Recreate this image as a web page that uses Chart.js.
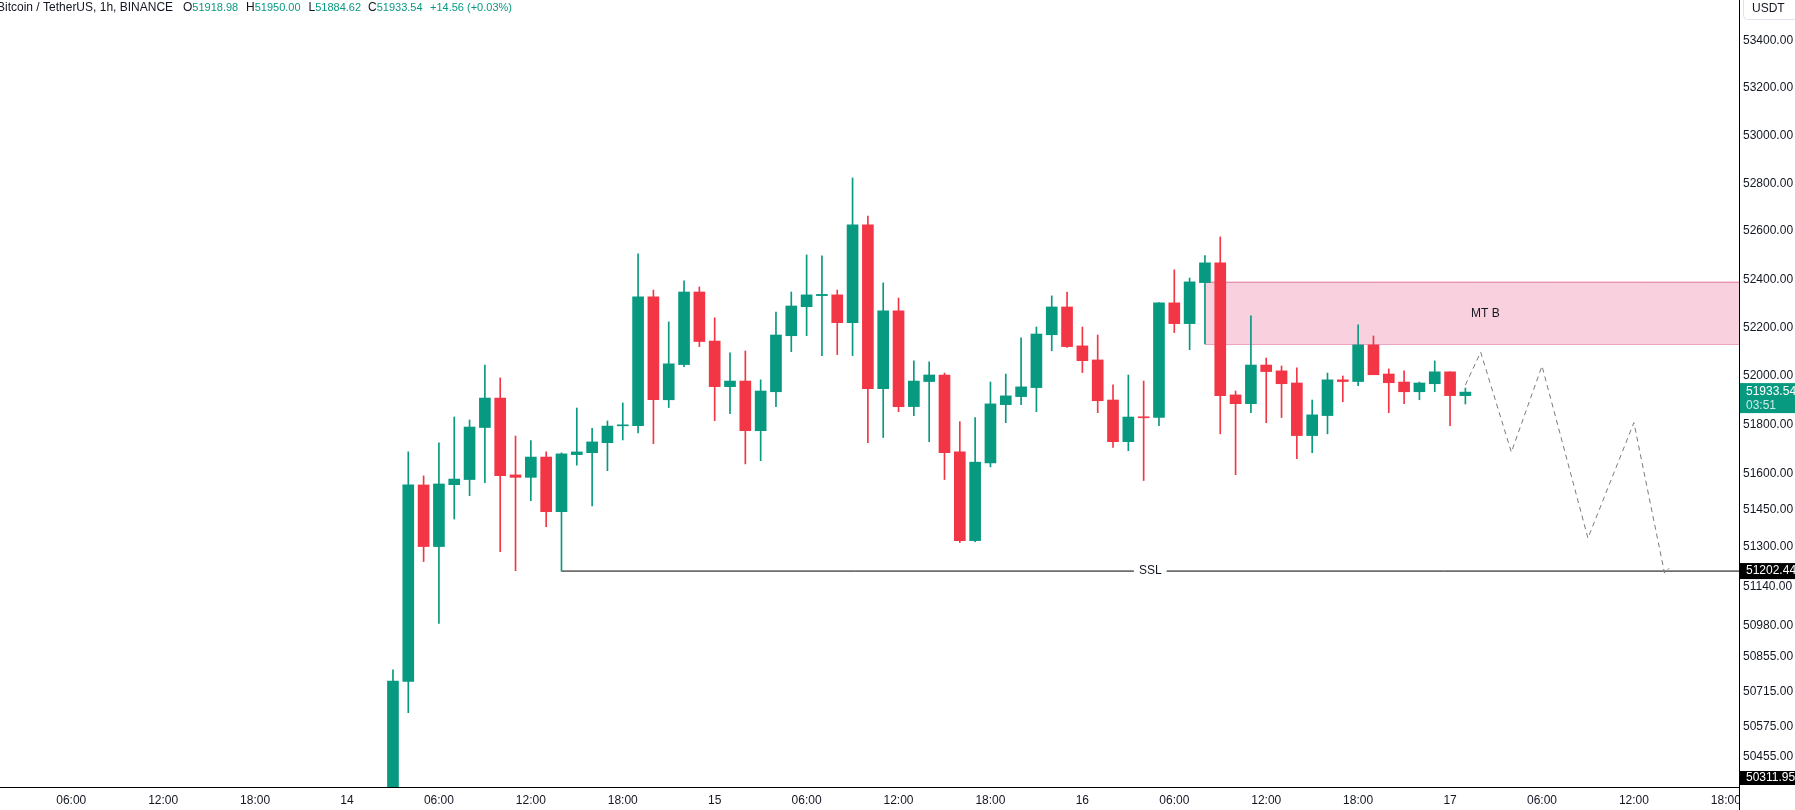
<!DOCTYPE html>
<html>
<head>
<meta charset="utf-8">
<title>Bitcoin / TetherUS, 1h</title>
<script src="https://cdn.jsdelivr.net/npm/chart.js@4.4.1/dist/chart.umd.min.js"></script>
<style>
  html, body { margin: 0; padding: 0; background: #ffffff; }
  #wrap { position: relative; width: 1795px; height: 810px; }
</style>
</head>
<body>
<div id="wrap"><canvas id="priceChart"></canvas></div>
<script>
// Candle open times, in hours counted from 14 Feb 00:00
const hours = [3, 4, 5, 6, 7, 8, 9, 10, 11, 12, 13, 14, 15, 16, 17, 18, 19, 20, 21, 22,
    23, 24, 25, 26, 27, 28, 29, 30, 31, 32, 33, 34, 35, 36, 37, 38, 39, 40, 41, 42,
    43, 44, 45, 46, 47, 48, 49, 50, 51, 52, 53, 54, 55, 56, 57, 58, 59, 60, 61, 62,
    63, 64, 65, 66, 67, 68, 69, 70, 71, 72, 73];

const opens = [50311.95, 50757, 51553, 51302, 51554, 51575, 51788, 51909, 51594, 51584,
    51667, 51444, 51677, 51685, 51726, 51795, 51796, 52327, 51902, 52047,
    52347, 52144, 51956, 51979, 51775, 51935, 52166, 52286, 52332, 52335,
    52220, 52626, 51948, 52269, 51874, 51977, 52004, 51688, 51326, 51643,
    51882, 51915, 51952, 52170, 52285, 52124, 52066, 51901, 51730, 51831,
    51829, 52302, 52216, 52386, 52468, 51922, 51886, 52045, 52021, 51971,
    51755, 51837, 51984, 51977, 52128, 52008, 51975, 51935, 51968, 52017, 51918.98];

const highs = [50803, 51688, 51590, 51725, 51831, 51819, 52045, 51992, 51753, 51734,
    51688, 51684, 51868, 51785, 51815, 51889, 52505, 52355, 52223, 52393,
    52368, 52240, 52095, 52103, 51984, 52264, 52347, 52501, 52497, 52355,
    52822, 52663, 52385, 52322, 52062, 52058, 52012, 51812, 51829, 51975,
    52008, 52157, 52202, 52331, 52347, 52202, 52169, 51963, 52004, 51979,
    52303, 52439, 52405, 52498, 52576, 51938, 52248, 52074, 52041, 52033,
    51901, 52012, 52000, 52211, 52165, 52029, 52021, 51975, 52062, 52017, 51950.00];

const lows = [50250, 50631, 51241, 50991, 51414, 51509, 51562, 51281, 51204, 51489,
    51383, 51202.44, 51634, 51467, 51611, 51737, 51766, 51722, 51870, 52038,
    52121, 51816, 51845, 51639, 51652, 51874, 52100, 52166, 52084, 52088,
    52084, 51726, 51747, 51853, 51837, 51730, 51575, 51318, 51322, 51627,
    51808, 51882, 51853, 52104, 52118, 52014, 51849, 51706, 51693, 51571,
    51796, 52179, 52108, 52132, 51762, 51595, 51849, 51808, 51829, 51660,
    51685, 51762, 51894, 51960, 52005, 51849, 51886, 51902, 51935, 51796, 51884.62];

const closes = [50758, 51553, 51302, 51557, 51577, 51790, 51909, 51591, 51584, 51667,
    51444, 51680, 51688, 51729, 51794, 51798, 52327, 51902, 52050, 52347,
    52142, 51956, 51979, 51775, 51938, 52169, 52289, 52335, 52337, 52220,
    52626, 51948, 52269, 51874, 51979, 52004, 51685, 51326, 51646, 51885,
    51918, 51955, 52173, 52285, 52121, 52063, 51898, 51730, 51831, 51828,
    52302, 52216, 52389, 52468, 51919, 51886, 52045, 52018, 51968, 51755,
    51840, 51984, 51977, 52128, 52005, 51972, 51935, 51971, 52017, 51919, 51933.54];

// Axis ticks
const priceTicks = [50455, 50575, 50715, 50855, 50980, 51140, 51300, 51450, 51600, 51800,
    52000, 52200, 52400, 52600, 52800, 53000, 53200, 53400];
const timeTicks = [-18, -12, -6, 0, 6, 12, 18, 24, 30, 36, 42, 48, 54, 60, 66, 72, 78, 84, 90];

// Drawings: sell-side liquidity line, MT B zone, projected path
const sslStart = 14;
const sslPrice = 51202.44;
const mtbStart = 56;
const mtbTop = 52387.6;
const mtbBottom = 52130.7;
const projHours = [73, 74, 76, 78, 81, 84, 86, 86.3];
const projPrices = [51963, 52098, 51687, 52041, 51336, 51808, 51194, 51214];

// Price scale labels
const lastPrice = 51933.54;
const lastCountdown = '03:51';
const lowMark = 50311.95;

// Visible range
const xMin = -22.65;
const xMax = 90.86;
const yMin = 50334;
const yMax = 53572;

const UP = '#089981';
const DOWN = '#f23645';
const TEXT = '#131722';
const FONT = '"Liberation Sans", Arial, sans-serif';

const candleColors = opens.map((o, i) => closes[i] >= o ? UP : DOWN);

/**
 * Labels and chrome drawn on top of the chart
 */
const overlayPlugin = {
    id: 'overlay',
    afterDraw(chart) {
        const ctx = chart.ctx;
        const xs = chart.scales.x;
        const ys = chart.scales.y;
        const area = chart.chartArea;
        ctx.save();

        // price scale corner hides the time label that runs past the pane
        ctx.fillStyle = '#fff';
        ctx.fillRect(area.right + 1, area.bottom + 1, chart.width - area.right, chart.height - area.bottom);

        // axis line continues below the time scale
        ctx.strokeStyle = '#000';
        ctx.lineWidth = 1;
        ctx.beginPath();
        ctx.moveTo(area.right + 0.5, area.bottom);
        ctx.lineTo(area.right + 0.5, chart.height);
        ctx.stroke();

        // header
        ctx.textBaseline = 'middle';
        ctx.textAlign = 'left';
        ctx.font = '12px ' + FONT;
        ctx.fillStyle = TEXT;
        ctx.fillText('Bitcoin / TetherUS, 1h, BINANCE', -3, 8);
        const ohlc = [['O', '51918.98', 183], ['H', '51950.00', 246], ['L', '51884.62', 308.5], ['C', '51933.54', 368]];
        ohlc.forEach(([k, v, x]) => {
            ctx.font = '12px ' + FONT;
            ctx.fillStyle = TEXT;
            ctx.fillText(k, x, 8);
            const kw = ctx.measureText(k).width;
            ctx.font = '11px ' + FONT;
            ctx.fillStyle = UP;
            ctx.fillText(v, x + kw, 8);
        });
        ctx.fillText('+14.56 (+0.03%)', 430, 8);

        // currency box
        ctx.strokeStyle = '#e0e3eb';
        ctx.beginPath();
        ctx.roundRect(area.right + 4.5, -4.5, 60, 24, 4);
        ctx.stroke();
        ctx.font = '12px ' + FONT;
        ctx.fillStyle = TEXT;
        ctx.fillText('USDT', area.right + 13, 9);

        // MT B zone label
        const mtbY = (ys.getPixelForValue(mtbTop) + ys.getPixelForValue(mtbBottom)) / 2;
        ctx.textAlign = 'center';
        ctx.fillStyle = TEXT;
        ctx.fillText('MT B', xs.getPixelForValue(74.3), mtbY);

        // SSL label, centred on the line
        const sslY = ys.getPixelForValue(sslPrice);
        const sslX = (xs.getPixelForValue(sslStart) + area.right) / 2;
        const w = ctx.measureText('SSL').width + 10;
        ctx.fillStyle = '#fff';
        ctx.fillRect(sslX - w / 2, sslY - 6, w, 12);
        ctx.fillStyle = TEXT;
        ctx.fillText('SSL', sslX, sslY);

        // price scale tags
        ctx.textAlign = 'left';
        const tagX = area.right + 1;
        const tagW = chart.width - tagX;

        const lastY = ys.getPixelForValue(lastPrice);
        ctx.fillStyle = UP;
        ctx.fillRect(tagX, lastY - 9, tagW, 30);
        ctx.fillStyle = '#fff';
        ctx.fillText(lastPrice.toFixed(2), area.right + 7, lastY);
        ctx.fillStyle = 'rgba(255,255,255,0.8)';
        ctx.fillText(lastCountdown, area.right + 7, lastY + 14);

        ctx.fillStyle = '#000';
        ctx.fillRect(tagX, sslY - 8, tagW, 16);
        ctx.fillStyle = '#fff';
        ctx.fillText(sslPrice.toFixed(2), area.right + 7, sslY);

        ctx.fillStyle = '#000';
        ctx.fillRect(tagX, area.bottom - 16, tagW, 14);
        ctx.fillStyle = '#fff';
        ctx.fillText(lowMark.toFixed(2), area.right + 7, area.bottom - 9);

        ctx.restore();
    }
};

/**
 * Format time scale ticks: day number at midnight, HH:00 otherwise
 */
function formatTime(value) {
    const h = ((value % 24) + 24) % 24;
    if (h === 0) {
        return String(14 + value / 24);
    }
    return String(h).padStart(2, '0') + ':00';
}

function initPriceChart() {
    const canvas = document.getElementById('priceChart');
    const ctx = canvas.getContext('2d');

    new Chart(ctx, {
        type: 'bar',
        data: {
            datasets: [
                {
                    label: 'Bodies',
                    data: hours.map((h, i) => ({ x: h, y: [opens[i], closes[i]] })),
                    backgroundColor: candleColors,
                    barThickness: 11,
                    minBarLength: 1,
                    grouped: false,
                    order: 1
                },
                {
                    label: 'Wicks',
                    data: hours.map((h, i) => ({ x: h, y: [lows[i], highs[i]] })),
                    backgroundColor: candleColors,
                    barThickness: 1,
                    grouped: false,
                    order: 2
                },
                {
                    type: 'line',
                    label: 'Projection',
                    data: projHours.map((h, i) => ({ x: h, y: projPrices[i] })),
                    borderColor: '#787b86',
                    borderWidth: 1,
                    borderDash: [5, 4],
                    pointRadius: 0,
                    fill: false,
                    order: 3
                },
                {
                    type: 'line',
                    label: 'SSL',
                    data: [{ x: sslStart, y: sslPrice }, { x: xMax, y: sslPrice }],
                    borderColor: '#000',
                    borderWidth: 1,
                    pointRadius: 0,
                    fill: false,
                    order: 4
                },
                {
                    type: 'line',
                    label: 'MT B top',
                    data: [{ x: mtbStart, y: mtbTop }, { x: xMax, y: mtbTop }],
                    borderColor: '#e3729b',
                    borderWidth: 1,
                    backgroundColor: '#f9d1de',
                    pointRadius: 0,
                    fill: '+1',
                    order: 10
                },
                {
                    type: 'line',
                    label: 'MT B bottom',
                    data: [{ x: mtbStart, y: mtbBottom }, { x: xMax, y: mtbBottom }],
                    borderColor: '#e3729b',
                    borderWidth: 1,
                    pointRadius: 0,
                    fill: false,
                    order: 10
                }
            ]
        },
        options: {
            responsive: true,
            maintainAspectRatio: false,
            animation: false,
            events: [],
            layout: { padding: 0 },
            plugins: {
                legend: { display: false },
                tooltip: { enabled: false }
            },
            scales: {
                x: {
                    type: 'linear',
                    min: xMin,
                    max: xMax,
                    offset: false,
                    grid: { display: false, drawTicks: false, offset: false },
                    border: { display: true, color: '#000', width: 1 },
                    afterBuildTicks: function(scale) {
                        scale.ticks = timeTicks.map(v => ({ value: v }));
                    },
                    afterFit: function(scale) {
                        scale.height = 23;
                        scale.paddingLeft = 0;
                        scale.paddingRight = 0;
                    },
                    ticks: {
                        autoSkip: false,
                        maxRotation: 0,
                        padding: 6,
                        color: TEXT,
                        font: { family: FONT, size: 12 },
                        callback: formatTime
                    }
                },
                y: {
                    type: 'logarithmic',
                    position: 'right',
                    min: yMin,
                    max: yMax,
                    grid: { display: false, drawTicks: false },
                    border: { display: true, color: '#000', width: 1 },
                    afterBuildTicks: function(scale) {
                        scale.ticks = priceTicks.map(v => ({ value: v }));
                    },
                    afterFit: function(scale) {
                        scale.width = 56;
                        scale.paddingTop = 0;
                        scale.paddingBottom = 0;
                    },
                    ticks: {
                        autoSkip: false,
                        padding: 4,
                        color: TEXT,
                        font: { family: FONT, size: 12 },
                        callback: function(value) {
                            return Number(value).toFixed(2);
                        }
                    }
                }
            }
        },
        plugins: [overlayPlugin]
    });
}

document.addEventListener('DOMContentLoaded', initPriceChart);
</script>
</body>
</html>
